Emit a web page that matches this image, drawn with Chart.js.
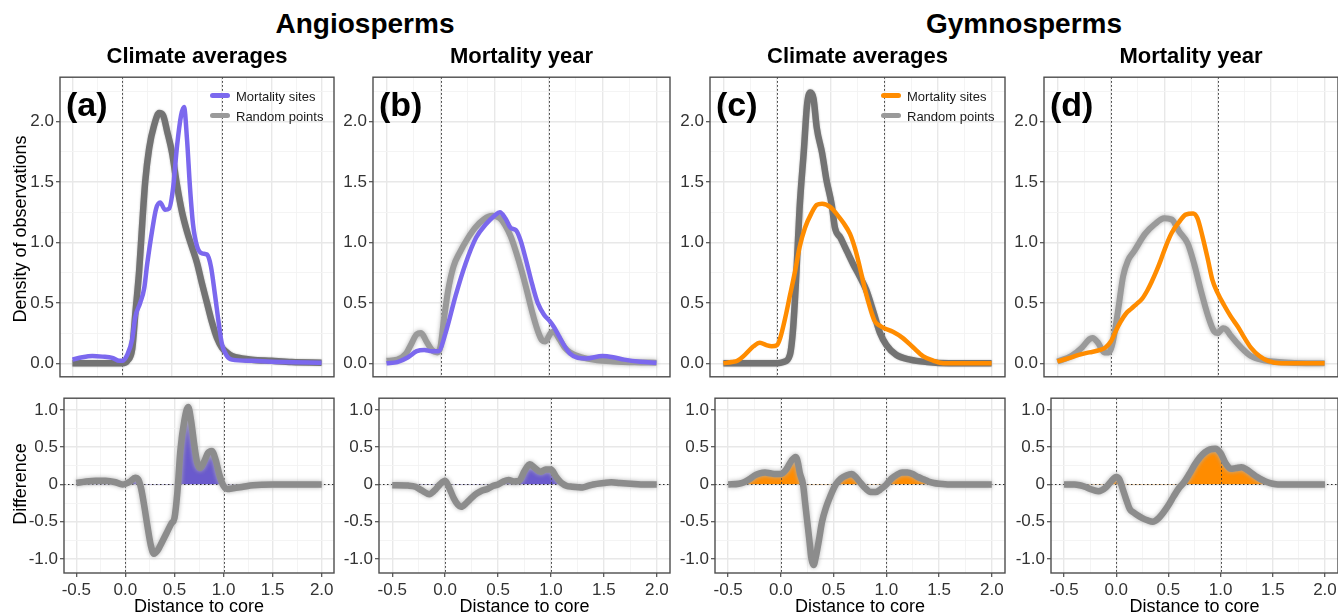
<!DOCTYPE html>
<html><head><meta charset="utf-8">
<script src="https://cdn.jsdelivr.net/npm/chart.js@4/dist/chart.umd.min.js"></script>
<style>
html,body{margin:0;padding:0;background:#fff;width:1338px;height:615px;overflow:hidden;font-family:"Liberation Sans",Arial,sans-serif;}
#wrap{position:relative;width:1338px;height:615px;overflow:hidden;background:#fff;}
canvas{position:absolute;}
.t{position:absolute;white-space:nowrap;line-height:1;color:#000;}
.sw{position:absolute;height:5px;width:20px;border-radius:2.5px;}
</style></head>
<body><div id="wrap"></div>
<script>
// ---------------- DATA ----------------
// x = distance to core, y = density / difference
const angioClimMort = [[-0.5,0.03],[-0.4,0.05],[-0.3,0.06],[-0.2,0.055],[-0.1,0.045],[-0.03,0.02],[0.0,0.02],[0.05,0.07],[0.1,0.2],[0.13,0.38],[0.18,0.5],[0.22,0.62],[0.25,0.82],[0.3,1.1],[0.34,1.28],[0.38,1.33],[0.43,1.27],[0.47,1.28],[0.51,1.45],[0.55,1.8],[0.59,2.05],[0.62,2.12],[0.65,1.85],[0.68,1.45],[0.71,1.15],[0.75,0.97],[0.8,0.91],[0.85,0.9],[0.89,0.8],[0.93,0.57],[0.97,0.32],[1.0,0.16],[1.05,0.06],[1.1,0.03],[1.3,0.02],[1.6,0.01],[2.0,0.005]];
const angioClimRand = [[-0.5,0],[0.0,0],[0.05,0.02],[0.1,0.12],[0.13,0.4],[0.17,0.77],[0.2,1.15],[0.23,1.5],[0.27,1.78],[0.32,1.97],[0.37,2.07],[0.41,2.05],[0.45,1.92],[0.5,1.74],[0.55,1.47],[0.6,1.25],[0.65,1.09],[0.7,0.96],[0.75,0.83],[0.8,0.66],[0.85,0.5],[0.9,0.34],[0.95,0.21],[1.0,0.13],[1.05,0.09],[1.1,0.06],[1.2,0.04],[1.3,0.03],[1.5,0.02],[1.7,0.01],[2.0,0.005]];
const angioYearMort = [[-0.5,0.0],[-0.4,0.01],[-0.3,0.05],[-0.22,0.1],[-0.15,0.11],[-0.08,0.1],[-0.02,0.1],[0.05,0.26],[0.14,0.56],[0.23,0.82],[0.33,1.04],[0.42,1.15],[0.5,1.22],[0.55,1.25],[0.6,1.2],[0.65,1.12],[0.7,1.1],[0.74,1.02],[0.79,0.86],[0.85,0.65],[0.9,0.5],[0.96,0.4],[1.01,0.35],[1.05,0.3],[1.1,0.22],[1.15,0.14],[1.2,0.08],[1.27,0.045],[1.35,0.04],[1.5,0.06],[1.6,0.05],[1.7,0.03],[1.85,0.012],[2.0,0.005]];
const angioYearRand = [[-0.5,0.02],[-0.4,0.03],[-0.32,0.08],[-0.27,0.16],[-0.22,0.24],[-0.18,0.25],[-0.13,0.18],[-0.08,0.11],[-0.03,0.09],[0.0,0.14],[0.03,0.35],[0.07,0.6],[0.12,0.8],[0.18,0.92],[0.25,1.03],[0.32,1.12],[0.4,1.19],[0.48,1.22],[0.55,1.2],[0.6,1.14],[0.65,1.05],[0.7,0.92],[0.75,0.77],[0.8,0.6],[0.85,0.42],[0.9,0.27],[0.94,0.19],[0.97,0.18],[1.02,0.25],[1.05,0.26],[1.1,0.2],[1.15,0.13],[1.2,0.09],[1.3,0.05],[1.45,0.025],[1.6,0.015],[1.8,0.008],[2.0,0.005]];
const gymnoClimMort = [[-0.5,0.0],[-0.42,0.01],[-0.37,0.02],[-0.3,0.07],[-0.22,0.14],[-0.16,0.17],[-0.1,0.15],[-0.05,0.14],[0.0,0.15],[0.03,0.21],[0.075,0.37],[0.12,0.56],[0.17,0.77],[0.21,0.96],[0.26,1.12],[0.32,1.24],[0.37,1.31],[0.42,1.32],[0.5,1.29],[0.56,1.23],[0.62,1.16],[0.68,1.07],[0.73,0.94],[0.77,0.8],[0.82,0.61],[0.87,0.45],[0.91,0.35],[0.96,0.31],[1.0,0.29],[1.08,0.26],[1.17,0.21],[1.27,0.13],[1.36,0.06],[1.46,0.02],[1.55,0.0],[2.0,0.0]];
const gymnoClimRand = [[-0.5,0],[0.0,0.0],[0.06,0.01],[0.12,0.07],[0.15,0.29],[0.18,0.74],[0.21,1.28],[0.25,1.76],[0.28,2.14],[0.31,2.24],[0.34,2.19],[0.37,1.95],[0.42,1.74],[0.46,1.52],[0.51,1.31],[0.54,1.12],[0.59,1.04],[0.65,0.93],[0.71,0.82],[0.77,0.72],[0.83,0.61],[0.9,0.42],[0.96,0.25],[1.02,0.15],[1.11,0.07],[1.24,0.03],[1.4,0.01],[1.6,0.0],[2.0,0.0]];
const gymnoYearMort = [[-0.5,0.015],[-0.4,0.04],[-0.3,0.07],[-0.2,0.09],[-0.1,0.11],[-0.05,0.13],[0.0,0.18],[0.07,0.31],[0.15,0.42],[0.19,0.45],[0.24,0.49],[0.29,0.53],[0.34,0.6],[0.38,0.67],[0.43,0.77],[0.47,0.86],[0.52,0.98],[0.57,1.08],[0.64,1.17],[0.7,1.23],[0.77,1.24],[0.81,1.2],[0.86,1.04],[0.91,0.85],[0.95,0.69],[1.0,0.58],[1.06,0.48],[1.12,0.39],[1.19,0.3],[1.25,0.21],[1.31,0.13],[1.39,0.06],[1.47,0.02],[1.6,0.0],[2.0,0.0]];
const gymnoYearRand = [[-0.5,0.015],[-0.37,0.06],[-0.27,0.13],[-0.2,0.2],[-0.17,0.21],[-0.12,0.17],[-0.06,0.09],[-0.02,0.09],[0.02,0.18],[0.07,0.45],[0.115,0.72],[0.16,0.85],[0.22,0.93],[0.32,1.07],[0.41,1.15],[0.5,1.2],[0.57,1.19],[0.64,1.09],[0.72,0.99],[0.78,0.82],[0.84,0.61],[0.91,0.39],[0.97,0.26],[1.0,0.25],[1.05,0.29],[1.08,0.28],[1.12,0.23],[1.22,0.13],[1.31,0.06],[1.43,0.025],[1.68,0.005],[2.0,0.0]];

const angioClimDiff = [[-0.5,0.02],[-0.4,0.04],[-0.3,0.05],[-0.2,0.05],[-0.1,0.03],[-0.03,0.0],[0.05,0.04],[0.1,0.09],[0.13,0.07],[0.16,-0.05],[0.2,-0.35],[0.23,-0.6],[0.26,-0.82],[0.29,-0.93],[0.33,-0.88],[0.37,-0.78],[0.42,-0.65],[0.47,-0.52],[0.5,-0.45],[0.53,-0.1],[0.56,0.45],[0.6,0.85],[0.64,1.04],[0.67,0.85],[0.7,0.55],[0.73,0.3],[0.76,0.22],[0.8,0.3],[0.84,0.42],[0.88,0.45],[0.92,0.33],[0.96,0.12],[1.0,-0.02],[1.04,-0.06],[1.1,-0.05],[1.2,-0.03],[1.3,-0.01],[1.5,0.0],[2.0,0.0]];
const angioYearDiff = [[-0.5,-0.01],[-0.35,-0.015],[-0.28,-0.03],[-0.22,-0.08],[-0.15,-0.13],[-0.1,-0.08],[-0.05,0.0],[0.0,0.05],[0.04,-0.05],[0.08,-0.18],[0.12,-0.27],[0.15,-0.3],[0.2,-0.25],[0.25,-0.18],[0.3,-0.12],[0.35,-0.08],[0.4,-0.06],[0.45,-0.02],[0.5,0.0],[0.55,0.04],[0.6,0.06],[0.65,0.04],[0.7,0.05],[0.75,0.18],[0.8,0.27],[0.85,0.22],[0.9,0.17],[0.95,0.2],[1.0,0.2],[1.05,0.1],[1.1,0.02],[1.15,-0.02],[1.2,-0.03],[1.3,-0.04],[1.35,-0.02],[1.4,0.0],[1.5,0.02],[1.57,0.03],[1.65,0.02],[1.75,0.01],[1.85,0.0],[2.0,0.0]];
const gymnoClimDiff = [[-0.5,0.0],[-0.4,0.01],[-0.35,0.03],[-0.3,0.07],[-0.25,0.12],[-0.2,0.15],[-0.15,0.16],[-0.1,0.15],[-0.05,0.14],[0.0,0.14],[0.05,0.2],[0.1,0.32],[0.14,0.37],[0.16,0.3],[0.18,0.15],[0.21,0.0],[0.23,-0.25],[0.25,-0.5],[0.27,-0.75],[0.29,-1.0],[0.31,-1.08],[0.33,-0.98],[0.36,-0.75],[0.39,-0.5],[0.43,-0.3],[0.47,-0.15],[0.52,0.0],[0.57,0.08],[0.62,0.12],[0.67,0.14],[0.71,0.1],[0.75,0.03],[0.8,-0.05],[0.85,-0.1],[0.9,-0.1],[0.95,-0.06],[1.0,0.0],[1.05,0.08],[1.1,0.13],[1.15,0.16],[1.2,0.16],[1.25,0.14],[1.3,0.1],[1.35,0.07],[1.4,0.04],[1.45,0.02],[1.5,0.01],[1.6,0.0],[2.0,0.0]];
const gymnoYearDiff = [[-0.5,0.0],[-0.4,0.0],[-0.35,-0.01],[-0.3,-0.03],[-0.25,-0.06],[-0.17,-0.09],[-0.1,-0.04],[-0.05,0.04],[0.0,0.1],[0.03,0.07],[0.06,-0.05],[0.1,-0.22],[0.13,-0.33],[0.17,-0.38],[0.2,-0.41],[0.25,-0.45],[0.3,-0.48],[0.35,-0.5],[0.4,-0.46],[0.45,-0.38],[0.5,-0.28],[0.55,-0.16],[0.6,-0.05],[0.65,0.03],[0.7,0.14],[0.75,0.26],[0.8,0.36],[0.85,0.43],[0.9,0.47],[0.95,0.48],[1.0,0.42],[1.05,0.28],[1.1,0.21],[1.15,0.22],[1.2,0.23],[1.25,0.2],[1.3,0.15],[1.35,0.1],[1.4,0.06],[1.45,0.03],[1.5,0.01],[1.55,0.0],[2.0,0.0]];

// tick values
const xTicksMajor = [-0.5, 0, 0.5, 1, 1.5, 2];
const xTicksMinor = [-0.25, 0.25, 0.75, 1.25, 1.75];
const yTopMajor = [0, 0.5, 1, 1.5, 2];
const yTopMinor = [0.25, 0.75, 1.25, 1.75, 2.25];
const yBotMajor = [-1, -0.5, 0, 0.5, 1];
const yBotMinor = [-0.75, -0.25, 0.25, 0.75];
const refLinesX = [0, 1];
const refLinesY = [0];

// labels
const groupTitles = ["Angiosperms", "Gymnosperms"];
const panelTitles = ["Climate averages", "Mortality year", "Climate averages", "Mortality year"];
const panelLetters = ["(a)", "(b)", "(c)", "(d)"];
const legendLabels = ["Mortality sites", "Random points"];

// ---------------- STYLE / LAYOUT ----------------
const PURPLE = '#7B68EE', PURPLE_FILL = '#6A5ACD', ORANGE = '#FF8C00', ORANGE_FILL = '#FF8C00';
const TICK_FONT = {family:'Liberation Sans', size:17};
const X_RANGE = {min:-0.625, max:2.125};
const TOP_Y = {min:-0.112, max:2.367};
const BOT_Y = {min:-1.187, max:1.157};
const topBoxes = [[60,334],[373,670],[710,1005],[1044,1338]];
const botBoxes = [[64,334],[379,670],[715,1005],[1051,1338]];
const TOP_T = 75, TOP_B = 383, BOT_T = 396, BOT_B = 573;

Chart.defaults.font.family = 'Liberation Sans';
const wrap = document.getElementById('wrap');
const isMajor = v => Math.abs(v*2 - Math.round(v*2)) < 1e-9;
const pts = arr => arr.map(([x,y]) => ({x, y}));

function drawRefs(chart){
  const {ctx, chartArea:a, scales:{x, y}} = chart;
  const hl = chart.options.plugins.deco.hline;
  ctx.save();
  ctx.strokeStyle = '#2b2b2b'; ctx.lineWidth = 1; ctx.setLineDash([1.5, 2.5]);
  for (const v of refLinesX){
    const px = Math.round(x.getPixelForValue(v)) + 0.5;
    ctx.beginPath(); ctx.moveTo(px, a.top); ctx.lineTo(px, a.bottom); ctx.stroke();
  }
  if (hl) for (const v of refLinesY){
    const py = Math.round(y.getPixelForValue(v)) + 0.5;
    ctx.beginPath(); ctx.moveTo(a.left, py); ctx.lineTo(a.right, py); ctx.stroke();
  }
  ctx.restore();
}

const deco = {
  id: 'deco',
  beforeDatasetsDraw(chart){
    if (!chart.data.datasets.some(d => d.refsAfter)) drawRefs(chart);
  },
  beforeDatasetDraw(chart, args){
    const ds = chart.data.datasets[args.index];
    if (ds.fuzz){ chart.ctx.save(); chart.ctx.shadowColor = ds.fuzz; chart.ctx.shadowBlur = ds.fuzzBlur || 4; }
  },
  afterDatasetDraw(chart, args){
    const ds = chart.data.datasets[args.index];
    if (ds.fuzz) chart.ctx.restore();
    if (ds.refsAfter) drawRefs(chart);
  },
  afterDraw(chart){
    const {ctx, chartArea:a} = chart;
    ctx.save(); ctx.strokeStyle = '#4d4d4d'; ctx.lineWidth = 1.4;
    ctx.strokeRect(a.left, a.top, a.right - a.left, a.bottom - a.top);
    ctx.restore();
  }
};

function buildChart({boxL, boxR, boxT, boxB, yr, yMajor, yMinor, bottom, datasets}){
  const axisH = bottom ? 30 : 6;
  const W = boxR - boxL + 65, H = boxB - boxT + 10 + axisH;
  const c = document.createElement('canvas');
  c.width = W; c.height = H;
  c.style.left = (boxL - 60) + 'px'; c.style.top = (boxT - 10) + 'px';
  c.style.width = W + 'px'; c.style.height = H + 'px';
  wrap.appendChild(c);
  const xAll = [...xTicksMajor, ...xTicksMinor].sort((a,b)=>a-b);
  const yAll = [...yMajor, ...yMinor].sort((a,b)=>a-b);
  const gridColor = ctx => (ctx.tick && !isMajor(ctx.tick.value)) ? '#f3f3f3' : '#e8e8e8';
  const gridWidth = ctx => (ctx.tick && !isMajor(ctx.tick.value)) ? 0.9 : 1.4;
  const tickColor = ctx => (ctx.tick && !isMajor(ctx.tick.value)) ? 'rgba(0,0,0,0)' : '#4d4d4d';
  new Chart(c, {
    type: 'line',
    data: {datasets},
    options: {
      responsive: false, animation: false, devicePixelRatio: 1,
      layout: {padding: {top: 10, right: 5, bottom: 0, left: 0}},
      elements: {point: {radius: 0}},
      plugins: {legend: {display: false}, tooltip: {enabled: false}, deco: {hline: bottom}},
      scales: {
        x: {
          type: 'linear', min: X_RANGE.min, max: X_RANGE.max,
          afterBuildTicks: s => { s.ticks = xAll.map(v => ({value: v})); },
          afterFit: s => { s.height = axisH; },
          ticks: {display: bottom, autoSkip: false, maxRotation: 0, minRotation: 0, padding: 3,
                  font: TICK_FONT, color: '#333', callback: v => isMajor(v) ? v.toFixed(1) : ''},
          grid: {color: gridColor, lineWidth: gridWidth, drawTicks: bottom, tickLength: 4,
                 tickColor: tickColor, tickWidth: 1.2},
          border: {display: false}
        },
        y: {
          type: 'linear', min: yr.min, max: yr.max,
          afterBuildTicks: s => { s.ticks = yAll.map(v => ({value: v})); },
          afterFit: s => { s.width = 60; },
          ticks: {autoSkip: false, padding: 2, font: TICK_FONT, color: '#333',
                  callback: v => isMajor(v) ? (bottom && Math.abs(v) < 1e-9 ? '0' : v.toFixed(1)) : ''},
          grid: {color: gridColor, lineWidth: gridWidth, drawTicks: true, tickLength: 4,
                 tickColor: tickColor, tickWidth: 1.2},
          border: {display: false}
        }
      }
    },
    plugins: [deco]
  });
}

function lineDs(data, color, width, extra){
  return Object.assign({data: pts(data), borderColor: color, borderWidth: width, fill: false,
    cubicInterpolationMode: 'monotone', pointRadius: 0, borderCapStyle: 'butt', borderJoinStyle: 'round'}, extra || {});
}

const topSets = [
  [angioClimMort, angioClimRand, PURPLE, false],
  [angioYearMort, angioYearRand, PURPLE, true],
  [gymnoClimMort, gymnoClimRand, ORANGE, false],
  [gymnoYearMort, gymnoYearRand, ORANGE, true]
];
const botSets = [
  [angioClimDiff, PURPLE_FILL],
  [angioYearDiff, PURPLE_FILL],
  [gymnoClimDiff, ORANGE_FILL],
  [gymnoYearDiff, ORANGE_FILL]
];

topSets.forEach(([mort, rand, col, fuzzy], i) => {
  buildChart({
    boxL: topBoxes[i][0], boxR: topBoxes[i][1], boxT: TOP_T, boxB: TOP_B,
    yr: TOP_Y, yMajor: yTopMajor, yMinor: yTopMinor, bottom: false,
    datasets: [
      lineDs(mort, col, 4.5),
      fuzzy ? lineDs(rand, '#9a9a9a', 6, {fuzz: 'rgba(170,170,170,0.9)', fuzzBlur: 4})
            : lineDs(rand, '#737373', 6.5, {fuzz: 'rgba(130,130,130,0.6)', fuzzBlur: 2})
    ]
  });
});

botSets.forEach(([diff, fillCol], i) => {
  buildChart({
    boxL: botBoxes[i][0], boxR: botBoxes[i][1], boxT: BOT_T, boxB: BOT_B,
    yr: BOT_Y, yMajor: yBotMajor, yMinor: yBotMinor, bottom: true,
    datasets: [
      lineDs(diff, '#8c8c8c', 6.5, {fuzz: 'rgba(175,175,175,0.95)', fuzzBlur: 4}),
      lineDs(diff, 'rgba(0,0,0,0)', 0, {fill: {target: 'origin', above: fillCol, below: 'rgba(0,0,0,0)'}, refsAfter: true})
    ]
  });
});

// ---------------- TEXT ----------------
function addText(txt, {x, y, size, bold, anchor, rotate, color}){
  const d = document.createElement('div');
  d.className = 't'; d.textContent = txt;
  d.style.fontSize = size + 'px';
  d.style.fontWeight = bold ? 'bold' : 'normal';
  if (color) d.style.color = color;
  d.style.left = x + 'px'; d.style.top = y + 'px';
  if (rotate) d.style.transform = 'translate(-50%,-50%) rotate(-90deg)';
  else if (anchor === 'center') d.style.transform = 'translateX(-50%)';
  wrap.appendChild(d);
}
function baselineTop(b, size){ return b - 0.83 * size; }

addText(groupTitles[0], {x: 365, y: baselineTop(33, 28), size: 28, bold: true, anchor: 'center'});
addText(groupTitles[1], {x: 1024, y: baselineTop(33, 28), size: 28, bold: true, anchor: 'center'});
topBoxes.forEach(([l, r], i) => {
  addText(panelTitles[i], {x: (l + r) / 2, y: baselineTop(63.5, 22), size: 22, bold: true, anchor: 'center'});
  addText(panelLetters[i], {x: l + 6, y: baselineTop(115, 34), size: 34, bold: true});
});
botBoxes.forEach(([l, r]) => {
  addText('Distance to core', {x: (l + r) / 2, y: baselineTop(611.5, 18), size: 18, anchor: 'center'});
});
addText('Density of observations', {x: 20, y: 229, size: 18, rotate: true});
addText('Difference', {x: 20, y: 484, size: 18, rotate: true});

// legends in panels (a) and (c)
[[topBoxes[0][1], PURPLE], [topBoxes[2][1], ORANGE]].forEach(([r, col]) => {
  [[col, 95.7], ['#9a9a9a', 115.7]].forEach(([c, cy], k) => {
    const s = document.createElement('div');
    s.className = 'sw'; s.style.background = c;
    s.style.left = (r - 124) + 'px'; s.style.top = (cy - 2.5) + 'px';
    wrap.appendChild(s);
    addText(legendLabels[k], {x: r - 98, y: baselineTop(cy + 5, 13), size: 13, color: '#1a1a1a'});
  });
});
</script>
</body></html>
